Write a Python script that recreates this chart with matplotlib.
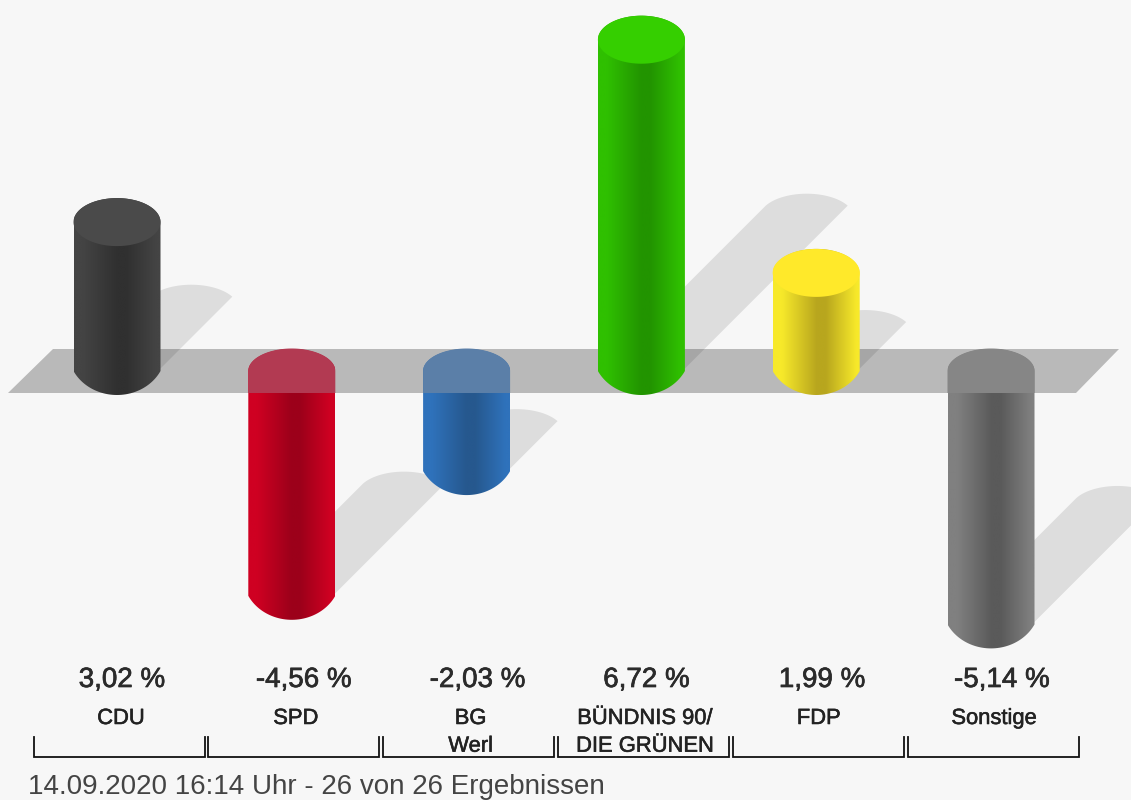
import numpy as np
import matplotlib
matplotlib.use('Agg')
import matplotlib.pyplot as plt
import matplotlib.patheffects as pe
from matplotlib.colors import LinearSegmentedColormap
from matplotlib.patches import PathPatch, Polygon
from matplotlib.path import Path

plt.rcParams['font.family'] = ['Liberation Sans', 'DejaVu Sans']

# ── Data ──────────────────────────────────────────────────
PARTIES = ['CDU', 'SPD', 'BG\nWerl', 'BÜNDNIS 90/\nDIE GRÜNEN', 'FDP', 'Sonstige']
CHANGES = [3.02, -4.56, -2.03, 6.72, 1.99, -5.14]
FOOTER = '14.09.2020 16:14 Uhr - 26 von 26 Ergebnissen'

# ── Colours: edge, centre, top face ───────────────────────
EDGE_COLORS = ['#444444', '#cf0022', '#2f72bb', '#2fc000', '#f7e92a', '#808080']
MID_COLORS = ['#303030', '#9c001a', '#26588e', '#229400', '#b8a61e', '#5a5a5a']
TOP_COLORS = ['#4a4a4a', '#b23a52', '#5b7fa8', '#35cf00', '#ffe92a', '#868686']
BG = '#f7f7f7'

# ── Layout in pixels of the 1131x800 picture ──────────────
PX_X, PX_Y = 174.8, 49.3      # px per category, px per percentage point
X0_PX, Y0_PX = 117.0, 371.0   # first category, zero line
BAR_A, BAR_H = 43.5, 24.0     # half width / half height of the bar ellipse
CAP_H = 22.0                  # top of the negative bars, flush with the plane
SHADOW_A, SHADOW_H = 41.0, 12.0
SHADOW_PX = 24.6              # shadow offset per percentage point (45 deg)
VALUE_DX = [5, 12, 11, 5, 6, 11]
LABEL_DX = [4, 4, 4, 3.5, 2.5, 3]


def px(x):
    return (x - X0_PX) / PX_X


def py(y):
    return (Y0_PX - y) / PX_Y


def arc(xc, yc, a, h, crop=1.0, n=60):
    """Half ellipse from left to right; crop > 1 leaves a corner at both ends."""
    lim = np.arccos(1 / crop)
    t = np.linspace(np.pi - lim, lim, n)
    xs = np.cos(t) * crop * a
    ys = (np.sin(t) - np.sin(lim)) / (1 - np.sin(lim)) * h
    return np.column_stack([xc + xs / PX_X, yc + ys / PX_Y])


def bar_path(i, value):
    upper = arc(i, max(value, 0), BAR_A, BAR_H if value >= 0 else CAP_H)
    lower = arc(i, min(value, 0), BAR_A, -BAR_H, crop=1.12)[::-1]
    return Path(np.vstack([upper, lower, upper[:1]]))


def shadow_polygon(i, value):
    # positive bars throw it from the foot, negative bars from the tip
    off = abs(value) * SHADOW_PX
    yc = min(value, 0)
    cap = arc(i + off / PX_X, yc + off / PX_Y, SHADOW_A, SHADOW_H, crop=1.15)
    base = np.array([[i + SHADOW_A / PX_X, yc], [i - SHADOW_A / PX_X, yc]])
    return np.vstack([cap, base])


fig = plt.figure(figsize=(11.31, 8), dpi=100, facecolor=BG)
ax = fig.add_axes([0, 0, 1, 1])
ax.set_facecolor(BG)
ax.axis('off')

xlim = (px(0), px(1131))
ylim = (py(800), py(0))

# ── Zero plane ────────────────────────────────────────────
ax.add_patch(Polygon([[px(8), py(393)], [px(1076), py(393)],
                      [px(1119), py(349)], [px(53), py(349)]],
                     closed=True, fc='black', ec='none', alpha=0.25, zorder=1))

# ── Shadows ───────────────────────────────────────────────
for i, val in enumerate(CHANGES):
    ax.add_patch(Polygon(shadow_polygon(i, val), closed=True,
                         fc='black', ec='none', alpha=0.10, zorder=2))

# ── Cylinders ─────────────────────────────────────────────
for i, val in enumerate(CHANGES):
    cmap = LinearSegmentedColormap.from_list(
        f'bar{i}', [(0, EDGE_COLORS[i]), (0.1, EDGE_COLORS[i]), (0.5, MID_COLORS[i]),
                    (0.6, MID_COLORS[i]), (0.95, EDGE_COLORS[i]), (1, EDGE_COLORS[i])])
    clip = PathPatch(bar_path(i, val), transform=ax.transData, fc='none', ec='none')
    ax.add_patch(clip)
    ax.imshow(np.linspace(0, 1, 256)[None, :], cmap=cmap, aspect='auto',
              extent=(i - BAR_A / PX_X, i + BAR_A / PX_X, min(val, 0) - 1, max(val, 0) + 1),
              interpolation='bilinear', zorder=3 + i * 0.01, clip_path=clip)
    if val >= 0:
        # lit top face
        upper = arc(i, val, BAR_A, BAR_H)
        lower = arc(i, val, BAR_A, -BAR_H)[::-1]
        ax.add_patch(Polygon(np.vstack([upper, lower]), closed=True,
                             fc=TOP_COLORS[i], ec='none', zorder=3.5))
    else:
        # part of the bar seen through the plane
        upper = arc(i, 0, BAR_A, CAP_H + 0.5)
        rect = np.array([[i + BAR_A / PX_X, py(393)], [i - BAR_A / PX_X, py(393)]])
        ax.add_patch(Polygon(np.vstack([upper, rect]), closed=True,
                             fc=TOP_COLORS[i], ec='none', zorder=3.5))

# ── Value and party labels ────────────────────────────────
for i, (val, name) in enumerate(zip(CHANGES, PARTIES)):
    txt = f'{val:.2f}'.replace('.', ',') + ' %'
    t = ax.text(i + VALUE_DX[i] / PX_X, py(687), txt, fontsize=20, color='#2b2b2b',
                ha='center', va='baseline', zorder=5)
    t.set_path_effects([pe.withStroke(linewidth=0.5, foreground='#2b2b2b')])
    t = ax.text(i + LABEL_DX[i] / PX_X, py(708), name, fontsize=15.8, color='#222222',
                ha='center', va='top', linespacing=1.42, zorder=5)
    t.set_path_effects([pe.withStroke(linewidth=0.4, foreground='#222222')])
    # bracket below each party
    left = i + 2 / PX_X - 85.5 / PX_X
    right = i + 2 / PX_X + 85.5 / PX_X
    ax.plot([left, left, right, right], [py(737), py(756.5), py(756.5), py(737)],
            color='#111111', lw=1.3, solid_joinstyle='miter', zorder=4)

ax.text(px(28), py(794), FOOTER, fontsize=19.95, color='#444444',
        ha='left', va='baseline', zorder=5)

ax.set_xlim(*xlim)
ax.set_ylim(*ylim)

plt.savefig('out.png', dpi=100, facecolor=BG)
